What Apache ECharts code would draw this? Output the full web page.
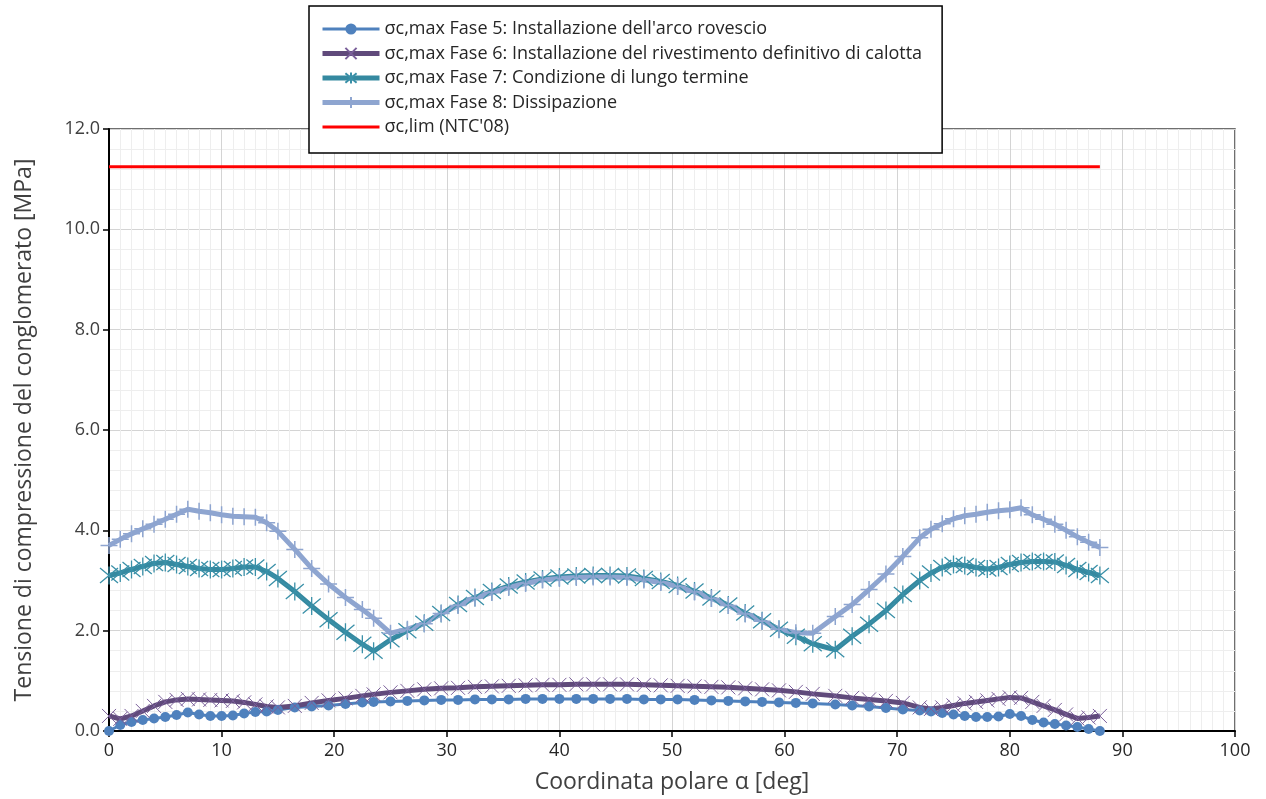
<!DOCTYPE html>
<html>
<head>
<meta charset="utf-8">
<script src="https://cdn.jsdelivr.net/npm/echarts@6/dist/echarts.min.js"></script>
<style>html,body{margin:0;padding:0;background:#fff}#c{width:1266px;height:799px}</style>
</head>
<body>
<div id="c"></div>
<script>
// Polar coordinate [deg]
const angles = [0,1,2,3,4,5,6,7,8,9,10,11,12,13,14,15,16.5,18,19.5,21,22.5,23.5,25,26.5,28,29.5,31,32.5,34,35.5,37,38.5,40,41.5,43,44.5,46,47.5,49,50.5,52,53.5,55,56.5,58,59.5,61,62.5,64.5,66,67.5,69,70.5,72,73,74,75,76,77,78,79,80,81,82,83,84,85,86,87,88];

const fase5 = [0.00,0.12,0.18,0.22,0.25,0.28,0.32,0.37,0.33,0.30,0.30,0.31,0.35,0.38,0.39,0.42,0.47,0.49,0.51,0.54,0.57,0.58,0.59,0.60,0.61,0.62,0.62,0.63,0.63,0.63,0.64,0.64,0.64,0.64,0.64,0.64,0.64,0.63,0.63,0.63,0.62,0.61,0.60,0.59,0.58,0.57,0.56,0.55,0.53,0.51,0.49,0.46,0.43,0.41,0.39,0.36,0.33,0.30,0.28,0.28,0.29,0.34,0.30,0.22,0.17,0.14,0.11,0.08,0.04,0.00];

const fase6 = [0.30,0.24,0.30,0.40,0.50,0.58,0.62,0.64,0.63,0.62,0.61,0.60,0.57,0.53,0.49,0.47,0.50,0.56,0.61,0.65,0.70,0.73,0.77,0.80,0.83,0.85,0.86,0.88,0.89,0.90,0.91,0.92,0.92,0.93,0.93,0.93,0.93,0.92,0.91,0.90,0.89,0.88,0.87,0.85,0.83,0.81,0.78,0.74,0.70,0.66,0.63,0.60,0.56,0.47,0.44,0.47,0.51,0.55,0.58,0.61,0.64,0.67,0.66,0.58,0.50,0.42,0.33,0.25,0.27,0.30];

const fase7 = [3.10,3.15,3.22,3.28,3.34,3.36,3.32,3.28,3.24,3.22,3.22,3.24,3.27,3.27,3.18,3.04,2.78,2.49,2.22,1.97,1.73,1.59,1.82,2.00,2.15,2.34,2.52,2.66,2.78,2.89,2.97,3.03,3.07,3.09,3.10,3.10,3.09,3.04,2.98,2.90,2.79,2.65,2.51,2.35,2.20,2.03,1.89,1.74,1.62,1.89,2.13,2.40,2.72,3.00,3.15,3.26,3.32,3.30,3.26,3.23,3.26,3.32,3.36,3.38,3.38,3.37,3.30,3.22,3.16,3.10];

const fase8 = [3.70,3.82,3.93,4.03,4.12,4.22,4.32,4.42,4.38,4.35,4.31,4.28,4.27,4.26,4.15,3.98,3.62,3.24,2.93,2.66,2.42,2.25,1.95,2.03,2.14,2.34,2.50,2.65,2.76,2.86,2.94,3.01,3.04,3.06,3.07,3.07,3.06,3.01,2.96,2.88,2.77,2.64,2.50,2.33,2.19,2.03,1.96,1.95,2.28,2.52,2.82,3.13,3.48,3.85,4.02,4.13,4.23,4.29,4.32,4.36,4.39,4.41,4.45,4.31,4.22,4.12,4.00,3.87,3.76,3.66];

const limitX = [0, 88];
const limitY = [11.25, 11.25];

const seriesNames = [
  "σc,max Fase 5: Installazione dell'arco rovescio",
  "σc,max Fase 6: Installazione del rivestimento definitivo di calotta",
  "σc,max Fase 7: Condizione di lungo termine",
  "σc,max Fase 8: Dissipazione",
  "σc,lim (NTC'08)"
];

function pairs(xs, ys){ return xs.map((x,i)=>[x, ys[i]]); }

const FONT = 'Open Sans';
const chart = echarts.init(document.getElementById('c'), null, {renderer:'canvas'});

const xMark = 'path://M0,0L10,10M10,0L0,10';
const starMark = 'path://M0,0L10,10M10,0L0,10M5,-1L5,11';
const plusMark = 'path://M5,0L5,10M0,5L10,5';
const lineIcon = 'path://M0,0H57V3H0Z';

chart.setOption({
  animation: false,
  backgroundColor: '#fff',
  textStyle: {fontFamily: FONT},
  grid: {left: 109, right: 31, top: 129, bottom: 67, show: true, borderColor: '#404040', borderWidth: 1.5, backgroundColor: 'transparent'},
  legend: {
    orient: 'vertical', left: 309, top: 6,
    backgroundColor: '#fff', borderColor: '#000', borderWidth: 1.5,
    padding: [14, 20, 17, 11],
    itemWidth: 57, itemHeight: 14, itemGap: 6.5,
    symbolKeepAspect: true,
    textStyle: {fontFamily: FONT, fontSize: 18, color: '#262626'},
    data: [
      {name: seriesNames[0], lineStyle: {width: 3}},
      {name: seriesNames[1], lineStyle: {width: 5}},
      {name: seriesNames[2], lineStyle: {width: 5}},
      {name: seriesNames[3], lineStyle: {width: 5}},
      {name: seriesNames[4], icon: lineIcon}
    ]
  },
  xAxis: {
    type: 'value', min: 0, max: 100, interval: 10,
    name: 'Coordinata polare α [deg]', nameLocation: 'middle', nameGap: 40,
    nameTextStyle: {fontFamily: FONT, fontSize: 23, color: '#404040'},
    axisLine: {show: true, onZero: false, lineStyle: {color: '#000', width: 2}},
    axisTick: {show: true, inside: false, length: 6, lineStyle: {color: '#000', width: 1.5}},
    axisLabel: {margin: 11, fontFamily: FONT, fontSize: 18, color: '#262626'},
    splitLine: {show: true, lineStyle: {color: '#D4D4D4', width: 1}},
    minorTick: {show: false, splitNumber: 10},
    minorSplitLine: {show: true, lineStyle: {color: '#EEEEEE', width: 1}}
  },
  yAxis: {
    type: 'value', min: 0, max: 12, interval: 2,
    name: 'Tensione di compressione del conglomerato [MPa]', nameLocation: 'middle', nameGap: 73,
    nameTextStyle: {fontFamily: FONT, fontSize: 23, color: '#404040'},
    axisLine: {show: true, onZero: false, lineStyle: {color: '#000', width: 2}},
    axisTick: {show: true, inside: false, length: 6, lineStyle: {color: '#000', width: 1.5}},
    axisLabel: {margin: 9, fontFamily: FONT, fontSize: 18, color: '#404040', formatter: v => v.toFixed(1)},
    splitLine: {show: true, lineStyle: {color: '#D4D4D4', width: 1}},
    minorTick: {show: false, splitNumber: 5},
    minorSplitLine: {show: true, lineStyle: {color: '#EEEEEE', width: 1}}
  },
  series: [
    {
      name: seriesNames[0], type: 'line', data: pairs(angles, fase5),
      symbol: 'circle', symbolSize: 10, showAllSymbol: true,
      lineStyle: {color: '#4F81BD', width: 3},
      itemStyle: {color: '#4F81BD'}
    },
    {
      name: seriesNames[1], type: 'line', data: pairs(angles, fase6),
      symbol: xMark, symbolSize: 14, showAllSymbol: true,
      lineStyle: {color: '#604A7B', width: 5},
      itemStyle: {color: 'rgba(0,0,0,0)', borderColor: '#7A5F9A', borderWidth: 1}
    },
    {
      name: seriesNames[2], type: 'line', data: pairs(angles, fase7),
      symbol: starMark, symbolSize: 18, showAllSymbol: true,
      lineStyle: {color: '#3589A0', width: 5},
      itemStyle: {color: 'rgba(0,0,0,0)', borderColor: '#3A90A8', borderWidth: 1.3}
    },
    {
      name: seriesNames[3], type: 'line', data: pairs(angles, fase8),
      symbol: plusMark, symbolSize: 17, showAllSymbol: true,
      lineStyle: {color: '#8EA5D0', width: 5},
      itemStyle: {color: 'rgba(0,0,0,0)', borderColor: '#8EA5D0', borderWidth: 1.5}
    },
    {
      name: seriesNames[4], type: 'line', data: pairs(limitX, limitY),
      symbol: 'none',
      lineStyle: {color: '#FF0000', width: 3},
      itemStyle: {color: '#FF0000'}
    }
  ]
});
</script>
</body>
</html>
